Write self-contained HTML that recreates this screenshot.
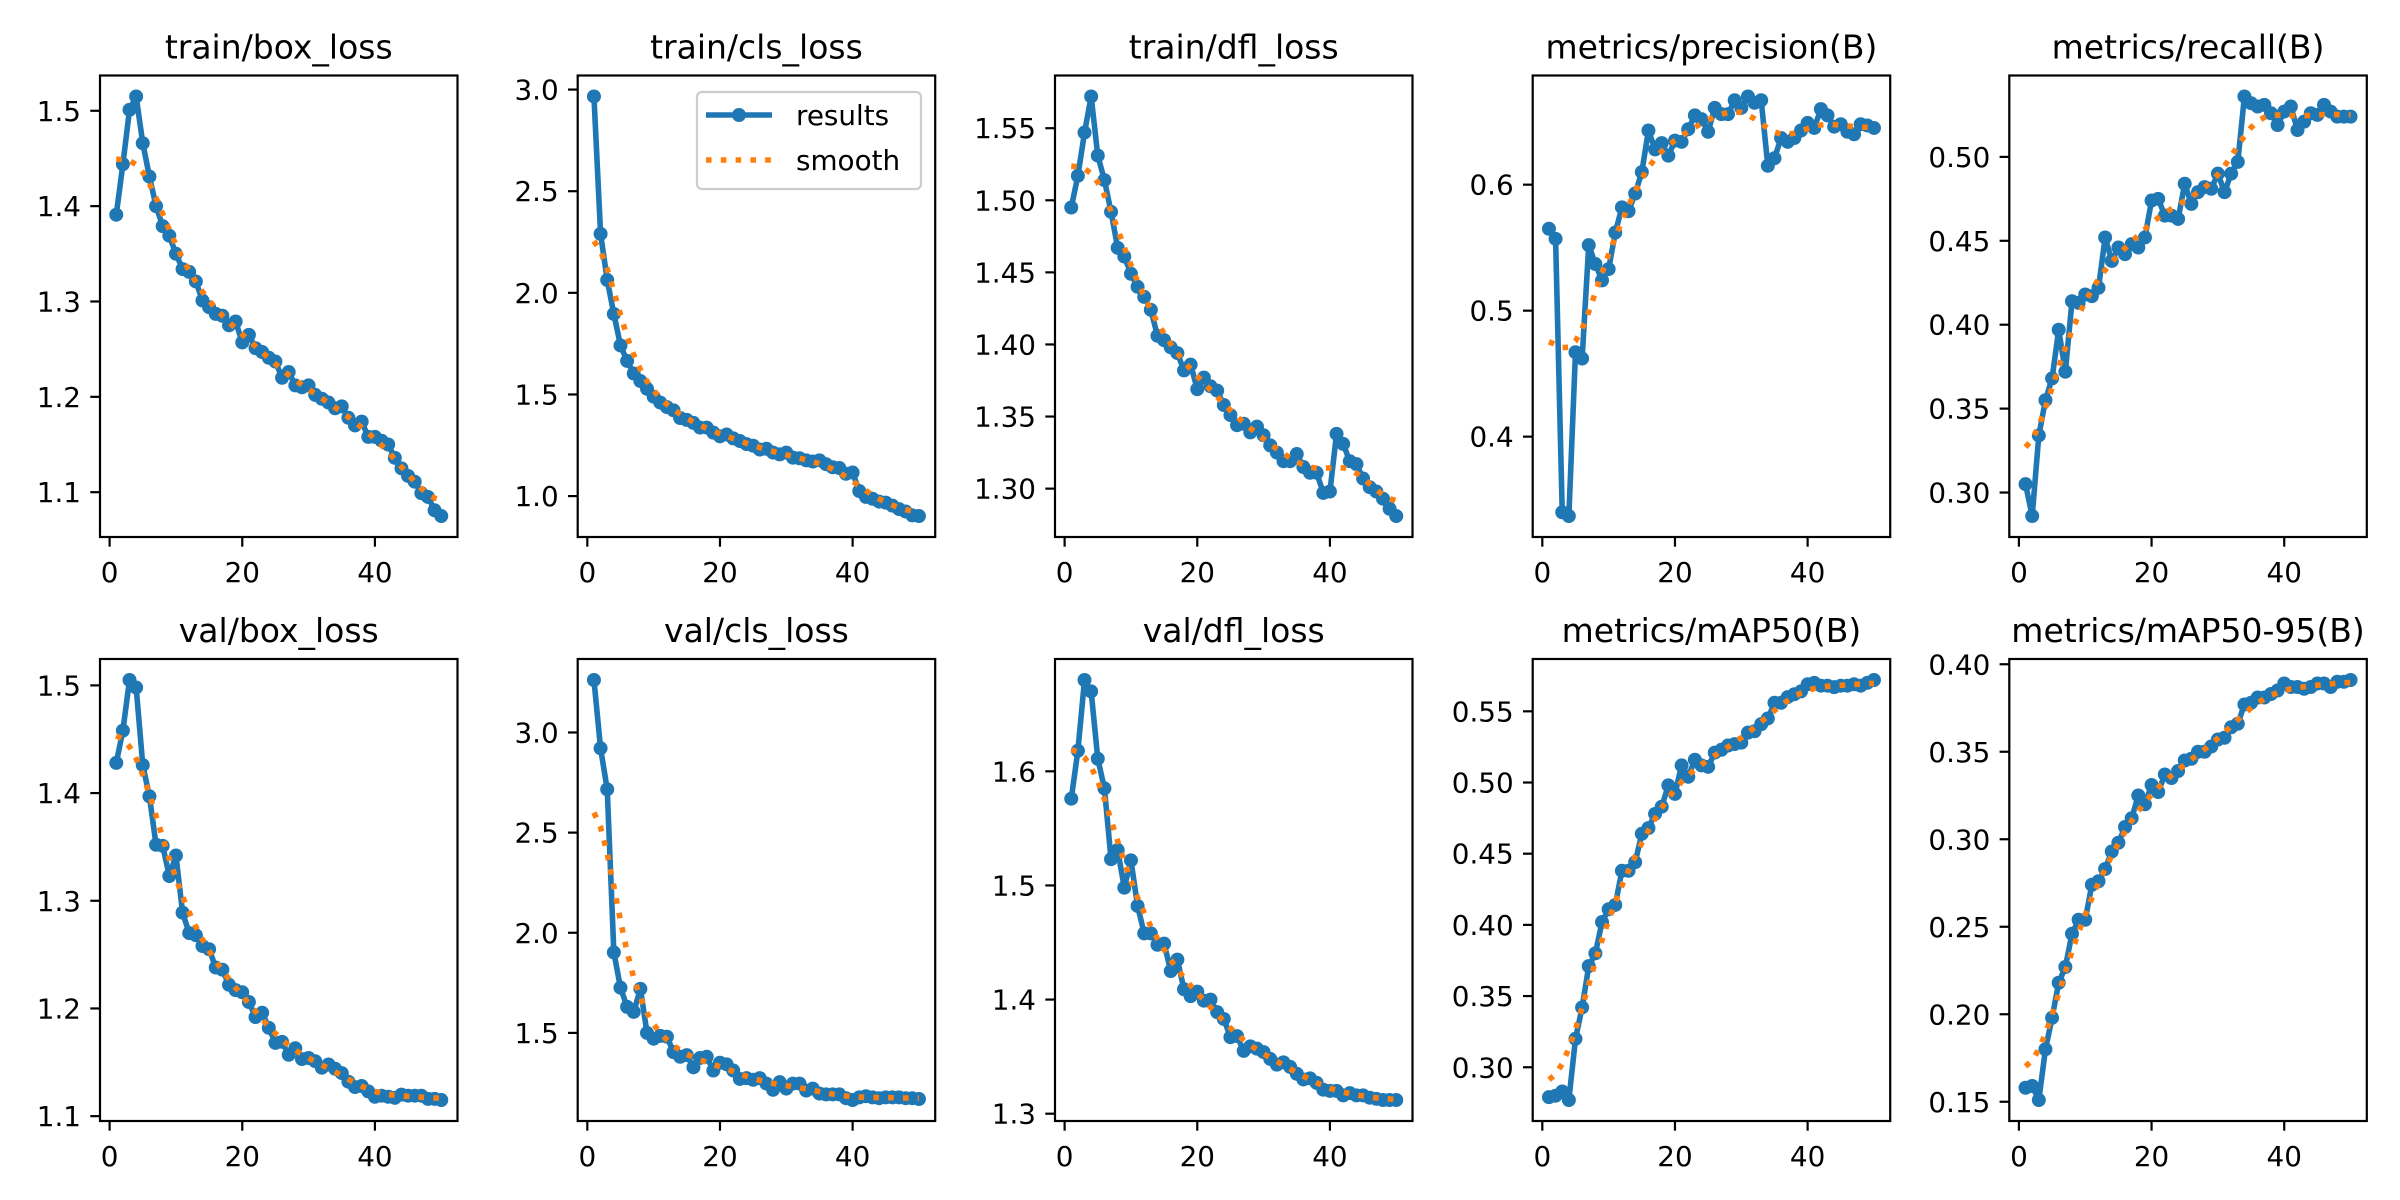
<!DOCTYPE html>
<html><head><meta charset="utf-8"><style>
html,body{margin:0;padding:0;background:#fff;}
svg{display:block;font-family:"DejaVu Sans","Liberation Sans",sans-serif;}
</style></head><body>
<svg id="fig" width="2400" height="1200" viewBox="0 0 2400 1200" xmlns="http://www.w3.org/2000/svg"></svg>
<script>
const epochs = Array.from({length:50},(_,i)=>i+1);
const titles = ["train/box_loss","train/cls_loss","train/dfl_loss","metrics/precision(B)","metrics/recall(B)",
"val/box_loss","val/cls_loss","val/dfl_loss","metrics/mAP50(B)","metrics/mAP50-95(B)"];
const trainBox = [1.391,1.444,1.501,1.515,1.466,1.431,1.400,1.379,1.369,1.350,1.334,1.331,1.321,1.301,1.294,1.287,1.285,1.275,1.279,1.257,1.265,1.251,1.247,1.241,1.237,1.220,1.226,1.212,1.210,1.212,1.202,1.198,1.194,1.188,1.190,1.178,1.170,1.174,1.158,1.158,1.154,1.150,1.136,1.125,1.117,1.111,1.099,1.095,1.081,1.075];
const trainCls = [2.966,2.290,2.063,1.896,1.741,1.665,1.603,1.566,1.528,1.489,1.460,1.438,1.422,1.384,1.375,1.360,1.337,1.337,1.312,1.294,1.303,1.284,1.271,1.256,1.248,1.229,1.233,1.214,1.205,1.214,1.189,1.186,1.176,1.170,1.176,1.157,1.142,1.138,1.110,1.116,1.025,0.996,0.987,0.973,0.968,0.953,0.936,0.924,0.905,0.902];
const trainDfl = [1.495,1.517,1.547,1.572,1.531,1.514,1.492,1.467,1.461,1.449,1.440,1.433,1.424,1.406,1.403,1.398,1.394,1.382,1.386,1.369,1.377,1.371,1.368,1.358,1.351,1.344,1.345,1.339,1.343,1.337,1.330,1.325,1.319,1.319,1.324,1.315,1.311,1.311,1.297,1.298,1.338,1.331,1.319,1.317,1.307,1.301,1.298,1.293,1.286,1.281];
const precision = [0.565,0.557,0.340,0.337,0.467,0.462,0.552,0.537,0.524,0.533,0.562,0.582,0.579,0.593,0.610,0.643,0.628,0.633,0.623,0.635,0.634,0.644,0.655,0.652,0.642,0.661,0.656,0.656,0.667,0.661,0.670,0.665,0.667,0.615,0.621,0.637,0.634,0.637,0.643,0.649,0.645,0.660,0.655,0.646,0.648,0.642,0.640,0.648,0.647,0.645];
const recall = [0.305,0.286,0.334,0.355,0.368,0.397,0.372,0.414,0.413,0.418,0.417,0.422,0.452,0.438,0.446,0.442,0.448,0.446,0.452,0.474,0.475,0.465,0.465,0.463,0.484,0.472,0.479,0.482,0.481,0.490,0.479,0.490,0.497,0.536,0.532,0.530,0.531,0.526,0.519,0.527,0.530,0.516,0.521,0.526,0.525,0.531,0.527,0.524,0.524,0.524];
const valBox = [1.428,1.458,1.505,1.498,1.426,1.397,1.352,1.351,1.323,1.342,1.289,1.270,1.268,1.258,1.255,1.238,1.236,1.222,1.217,1.215,1.206,1.192,1.196,1.182,1.168,1.169,1.157,1.163,1.153,1.154,1.151,1.145,1.148,1.144,1.140,1.132,1.127,1.128,1.123,1.118,1.119,1.118,1.117,1.120,1.119,1.119,1.119,1.116,1.116,1.115];
const valCls = [3.262,2.921,2.716,1.902,1.726,1.630,1.605,1.720,1.500,1.471,1.485,1.481,1.404,1.381,1.389,1.328,1.375,1.381,1.312,1.351,1.343,1.312,1.270,1.274,1.266,1.274,1.247,1.216,1.254,1.222,1.247,1.247,1.212,1.222,1.197,1.193,1.193,1.193,1.174,1.165,1.178,1.184,1.178,1.174,1.178,1.178,1.178,1.174,1.174,1.170];
const valDfl = [1.576,1.618,1.680,1.670,1.611,1.585,1.523,1.531,1.498,1.522,1.482,1.458,1.458,1.448,1.449,1.425,1.435,1.409,1.403,1.407,1.399,1.400,1.389,1.383,1.367,1.368,1.355,1.359,1.357,1.354,1.348,1.343,1.345,1.341,1.335,1.330,1.331,1.327,1.321,1.320,1.320,1.316,1.318,1.316,1.316,1.314,1.313,1.312,1.312,1.312];
const map50 = [0.279,0.280,0.283,0.277,0.320,0.342,0.371,0.380,0.402,0.411,0.414,0.438,0.438,0.444,0.464,0.468,0.478,0.483,0.498,0.492,0.512,0.504,0.516,0.512,0.511,0.521,0.523,0.526,0.527,0.528,0.535,0.536,0.541,0.545,0.556,0.556,0.560,0.562,0.564,0.569,0.570,0.568,0.568,0.567,0.568,0.568,0.569,0.568,0.570,0.572];
const map5095 = [0.158,0.159,0.151,0.180,0.198,0.218,0.227,0.246,0.254,0.254,0.274,0.276,0.283,0.293,0.298,0.307,0.312,0.325,0.320,0.331,0.327,0.337,0.335,0.339,0.345,0.346,0.350,0.350,0.353,0.357,0.358,0.364,0.366,0.377,0.378,0.381,0.381,0.383,0.385,0.389,0.387,0.387,0.386,0.387,0.389,0.389,0.387,0.390,0.390,0.391];
const yTicks = [[1.1,1.2,1.3,1.4,1.5],[1.0,1.5,2.0,2.5,3.0],[1.30,1.35,1.40,1.45,1.50,1.55],[0.4,0.5,0.6],[0.30,0.35,0.40,0.45,0.50],
[1.1,1.2,1.3,1.4,1.5],[1.5,2.0,2.5,3.0],[1.3,1.4,1.5,1.6],[0.30,0.35,0.40,0.45,0.50,0.55],[0.15,0.20,0.25,0.30,0.35,0.40]];
const yDecimals = [1,1,2,1,2,1,1,1,2,2];
const xTicks = [0,20,40];
const series = [trainBox,trainCls,trainDfl,precision,recall,valBox,valCls,valDfl,map50,map5095];

const NS="http://www.w3.org/2000/svg";
const svg=document.getElementById('fig');
function mk(tag,attrs,parent){const e=document.createElementNS(NS,tag);for(const k in attrs)e.setAttribute(k,attrs[k]);(parent||svg).appendChild(e);return e;}
function gauss(y,sigma){const r=Math.round(4*sigma);const w=[];let s=0;for(let i=-r;i<=r;i++){const v=Math.exp(-i*i/(2*sigma*sigma));w.push(v);s+=v;}
 const n=y.length;const idx=k=>{while(k<0||k>=n){if(k<0)k=-k-1;if(k>=n)k=2*n-k-1;}return k;};
 return y.map((_,i)=>{let a=0;for(let j=-r;j<=r;j++)a+=w[j+r]*y[idx(i+j)];return a/s;});}
const lefts=[100,577.7,1055,1532.7,2009.3];const W=357.5;
const rows=[[75.5,537],[659,1121]];
const blue="#1f77b4",orange="#ff7f0e";
series.forEach((ys,p)=>{
 const col=p%5,row=Math.floor(p/5);
 const L=lefts[col],T=rows[row][0],B=rows[row][1],H=B-T;
 const g=mk('g',{});
 
 
 const sm=gauss(ys,3);
 const all=ys.concat(sm);let mn=Math.min(...all),mx=Math.max(...all);const pad=(mx-mn)*0.05;mn-=pad;mx+=pad;
 const xmin=1-0.05*49,xmax=50+0.05*49;
 const sx=v=>L+(v-xmin)/(xmax-xmin)*W;
 const sy=v=>B-(v-mn)/(mx-mn)*H;
 // title
 const t=mk('text',{x:L+W/2,y:T-17,'text-anchor':'middle','font-size':33,fill:'#000'},g);t.textContent=titles[p];
 
 
 // series lines
 const pts=epochs.map((e,i)=>sx(e).toFixed(2)+','+sy(ys[i]).toFixed(2)).join(' ');
 const line=mk('polyline',{points:pts,fill:'none',stroke:blue,'stroke-width':5.6,'stroke-linejoin':'round'},g);
 
 
 epochs.forEach((e,i)=>{const c=mk('circle',{cx:sx(e),cy:sy(ys[i]),r:7,fill:blue},g);
  
  });
 const sp=epochs.map((e,i)=>sx(e).toFixed(2)+','+sy(sm[i]).toFixed(2)).join(' ');
 const sl=mk('polyline',{points:sp,fill:'none',stroke:orange,'stroke-width':5.6,'stroke-dasharray':'5.6 9.2'},g);
 
 
 // frame
 const fr=mk('rect',{x:L,y:T,width:W,height:H,fill:'none',stroke:'#000','stroke-width':2.2},g);
 
 
 // x ticks
 xTicks.forEach(v=>{const x=sx(v);mk('line',{x1:x,y1:B,x2:x,y2:B+9.7,stroke:'#000','stroke-width':2.2},g);
  const tx=mk('text',{x:x,y:B+45,'text-anchor':'middle','font-size':27.8,fill:'#000'},g);tx.textContent=v;
  
  });
 yTicks[p].forEach(v=>{const y=sy(v);mk('line',{x1:L-9.7,y1:y,x2:L,y2:y,stroke:'#000','stroke-width':2.2},g);
  const ty=mk('text',{x:L-19,y:y+10,'text-anchor':'end','font-size':27.8,fill:'#000'},g);ty.textContent=v.toFixed(yDecimals[p]);
  
  });
});
// legend in subplot 2
const lg=mk('g',{});


mk('rect',{x:697,y:92,width:224,height:97,rx:5,fill:'#fff','fill-opacity':0.8,stroke:'#cccccc','stroke-width':2.2},lg);
mk('line',{x1:706,y1:115,x2:772,y2:115,stroke:blue,'stroke-width':5.6},lg);
mk('circle',{cx:739,cy:115,r:7,fill:blue},lg);
const l1=mk('text',{x:796,y:125,'font-size':27.8,fill:'#000'},lg);l1.textContent='results';


mk('line',{x1:706,y1:160,x2:772,y2:160,stroke:orange,'stroke-width':5.6,'stroke-dasharray':'5.6 9.2'},lg);
const l2=mk('text',{x:796,y:170,'font-size':27.8,fill:'#000'},lg);l2.textContent='smooth';


</script>
</body></html>
